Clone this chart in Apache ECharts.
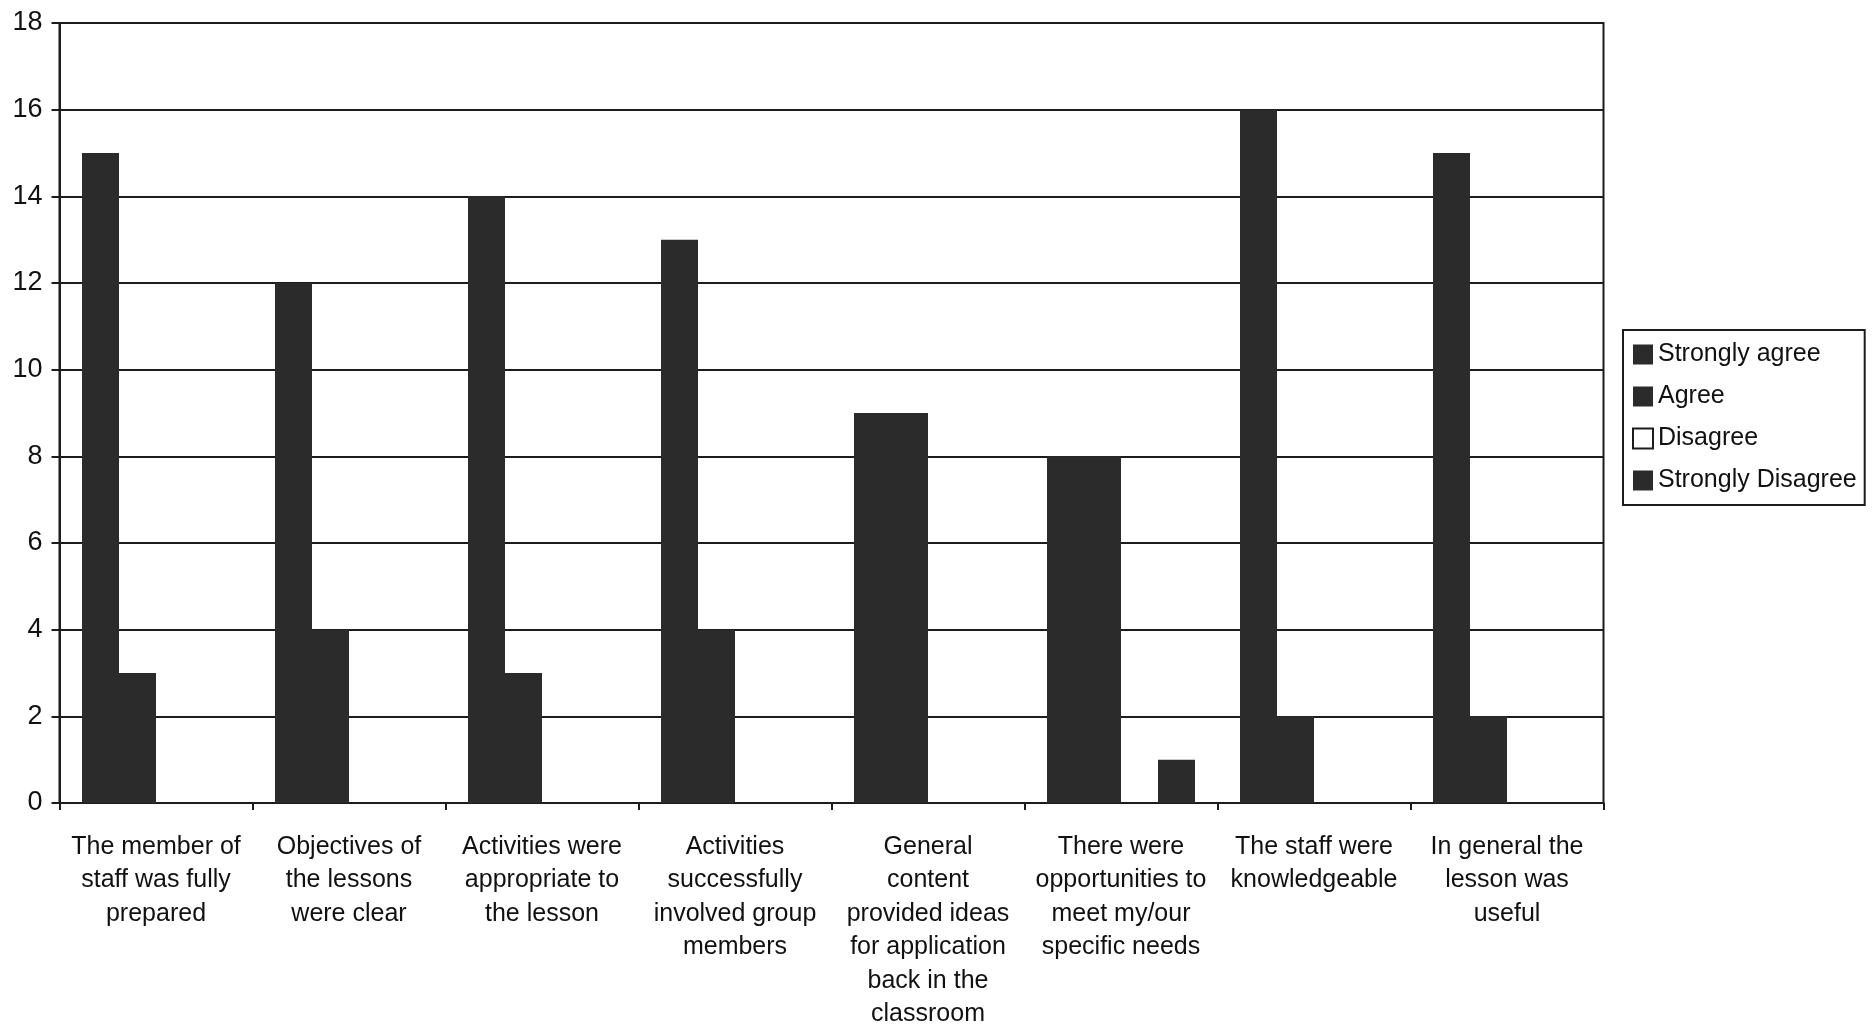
<!DOCTYPE html>
<html>
<head>
<meta charset="utf-8">
<script src="https://cdn.jsdelivr.net/npm/echarts@6/dist/echarts.min.js"></script>
<style>
  html, body { margin: 0; padding: 0; background: #fff; }
  #chart { width: 1873px; height: 1025px; }
</style>
</head>
<body>
<div id="chart"></div>
<script>
// Survey statements (wrapped as they appear under the axis)
const categories = [
  "The member of\nstaff was fully\nprepared",
  "Objectives of\nthe lessons\nwere clear",
  "Activities were\nappropriate to\nthe lesson",
  "Activities\nsuccessfully\ninvolved group\nmembers",
  "General\ncontent\nprovided ideas\nfor application\nback in the\nclassroom",
  "There were\nopportunities to\nmeet my/our\nspecific needs",
  "The staff were\nknowledgeable",
  "In general the\nlesson was\nuseful"
];

// Response counts per statement
const stronglyAgree    = [15, 12, 14, 13, 9, 8, 16, 15];
const agree            = [3, 4, 3, 4, 9, 8, 2, 2];
const disagree         = [0, 0, 0, 0, 0, 0, 0, 0];
const stronglyDisagree = [0, 0, 0, 0, 0, 1, 0, 0];

const yTicks = { min: 0, max: 18, interval: 2 };

const ink = '#1c1c1c';
const barFill = '#2b2b2b';
const font = 'Liberation Sans, Arial, sans-serif';

const chart = echarts.init(document.getElementById('chart'), null, { renderer: 'canvas' });

function bar(name, data, style) {
  return {
    name: name,
    type: 'bar',
    data: data,
    barWidth: 37,
    barGap: '0%',
    itemStyle: style,
    emphasis: { disabled: true }
  };
}

const solid = { color: barFill };

chart.setOption({
  animation: false,
  backgroundColor: '#fff',
  grid: {
    // half-pixel offset puts touching bar edges on whole pixels (no seam)
    left: 59.5, right: 269.5, top: 23, bottom: 222,
    outerBoundsMode: 'none',
    show: true, borderColor: ink, borderWidth: 2, backgroundColor: 'transparent'
  },
  legend: {
    orient: 'vertical',
    left: 1623, top: 330,
    padding: [12, 8, 12, 9],
    itemWidth: 20, itemHeight: 20, itemGap: 17,
    borderColor: ink, borderWidth: 2,
    icon: 'rect',
    textStyle: { fontFamily: font, fontSize: 25, color: '#111' },
    data: ['Strongly agree', 'Agree', 'Disagree', 'Strongly Disagree']
  },
  xAxis: {
    type: 'category',
    data: categories,
    axisLine: { show: true, lineStyle: { color: ink, width: 2 } },
    axisTick: { show: true, inside: false, length: 7, lineStyle: { color: ink, width: 2 } },
    axisLabel: {
      interval: 0, margin: 27,
      fontFamily: font, fontSize: 25, lineHeight: 33.5, color: '#111', align: 'center'
    },
    splitLine: { show: false }
  },
  yAxis: {
    type: 'value',
    min: yTicks.min, max: yTicks.max, interval: yTicks.interval,
    axisLine: { show: true, lineStyle: { color: ink, width: 2 } },
    axisTick: { show: true, inside: false, length: 8, lineStyle: { color: ink, width: 2 } },
    axisLabel: { margin: 17, fontFamily: font, fontSize: 27, color: '#111' },
    splitLine: { show: true, lineStyle: { color: ink, width: 2 } }
  },
  series: [
    bar('Strongly agree', stronglyAgree, solid),
    bar('Agree', agree, solid),
    bar('Disagree', disagree, { color: '#fff', borderColor: ink, borderWidth: 2 }),
    bar('Strongly Disagree', stronglyDisagree, solid)
  ]
});
</script>
</body>
</html>
